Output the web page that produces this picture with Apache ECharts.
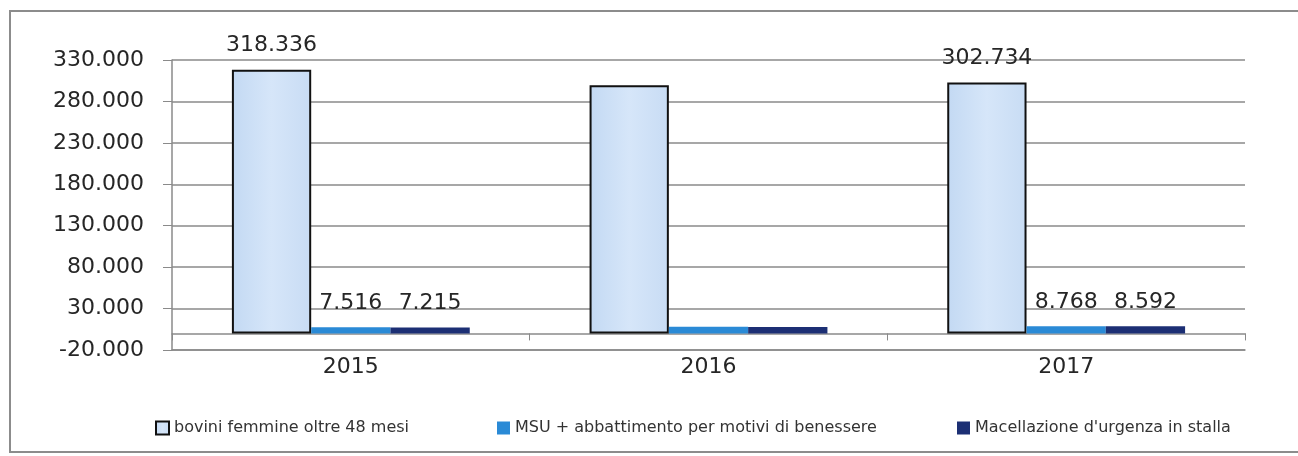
<!DOCTYPE html>
<html>
<head>
<meta charset="utf-8">
<script src="https://cdn.jsdelivr.net/npm/echarts@6/dist/echarts.min.js"></script>
<style>
html,body{margin:0;padding:0;background:#fff;}
#chart{width:1298px;height:456px;}
</style>
</head>
<body>
<div id="chart"></div>
<script>
var categories = ['2015', '2016', '2017'];
var seriesNames = ['bovini femmine oltre 48 mesi', 'MSU + abbattimento per motivi di benessere', "Macellazione d'urgenza in stalla"];
var bovini = [318336, 299600, 302734];
var msu = [7516, 8200, 8768];
var macellazione = [7215, 7900, 8592];
var yTicks = [-20000, 30000, 80000, 130000, 180000, 230000, 280000, 330000];

function fmt(v) {
  var neg = v < 0;
  var s = String(Math.abs(Math.round(v)));
  s = s.replace(/\B(?=(\d{3})+(?!\d))/g, '.');
  return (neg ? '-' : '') + s;
}

var FONT = 'DejaVu Sans';
var GRID = '#8a8a8a';

function makeData(values) {
  return values.map(function (v, i) {
    return { value: v, label: { show: i !== 1 } };
  });
}

var labelCfg = {
  show: true,
  position: 'top',
  distance: 13,
  fontFamily: FONT,
  fontSize: 22,
  color: '#262626',
  formatter: function (p) { return fmt(p.value); }
};

var chart = echarts.init(document.getElementById('chart'), null, { renderer: 'canvas' });
chart.setOption({
  animation: false,
  backgroundColor: '#fff',
  graphic: [{
    type: 'rect',
    shape: { x: 10, y: 11, width: 1300, height: 441 },
    style: { fill: 'none', stroke: '#8c8c8c', lineWidth: 2 },
    silent: true,
    z: -1
  }],
  grid: { left: 172, right: 53, top: 60, bottom: 106, containLabel: false },
  legend: [
    { data: [seriesNames[0]], left: 155, top: 420 },
    { data: [seriesNames[1]], left: 497, top: 420 },
    { data: [seriesNames[2]], left: 957, top: 420 }
  ].map(function (l) {
    l.itemWidth = 13; l.itemHeight = 13; l.icon = 'rect'; l.itemGap = 0; l.padding = 0;
    l.textStyle = { fontFamily: FONT, fontSize: 16, color: '#333' };
    return l;
  }),
  xAxis: [{
    type: 'category',
    data: categories,
    position: 'bottom',
    axisLine: { onZero: false, lineStyle: { color: GRID, width: 1.5 } },
    axisTick: { show: false },
    axisLabel: { fontFamily: FONT, fontSize: 22, color: '#262626', margin: 6 }
  }, {
    type: 'category',
    data: categories,
    position: 'top',
    axisLine: { onZero: true, lineStyle: { color: GRID, width: 1.5 } },
    axisTick: { show: true, inside: true, length: 7, lineStyle: { color: GRID } },
    axisLabel: { show: false }
  }],
  yAxis: {
    type: 'value',
    min: -20000,
    max: 330000,
    interval: 50000,
    axisLine: { show: true, lineStyle: { color: GRID, width: 1.5 } },
    axisTick: { show: true, length: 9, lineStyle: { color: GRID } },
    splitLine: { show: true, lineStyle: { color: GRID, width: 1.5 } },
    axisLabel: {
      fontFamily: FONT, fontSize: 22, color: '#262626', margin: 28,
      formatter: function (v) { return yTicks.indexOf(v) >= 0 ? fmt(v) : ''; }
    }
  },
  series: [{
    name: seriesNames[0],
    type: 'bar',
    xAxisIndex: 0,
    data: makeData(bovini),
    barGap: '0%',
    barCategoryGap: '33.5%',
    itemStyle: {
      color: new echarts.graphic.LinearGradient(0, 0, 1, 0, [
        { offset: 0, color: '#c3d9f3' }, { offset: 0.5, color: '#d6e6f9' }, { offset: 1, color: '#c8dcf4' }
      ]),
      borderColor: '#111',
      borderWidth: 2
    },
    label: labelCfg
  }, {
    name: seriesNames[1],
    type: 'bar',
    xAxisIndex: 0,
    data: makeData(msu),
    barGap: '0%',
    barCategoryGap: '33.5%',
    itemStyle: { color: '#2a8ad6' },
    label: labelCfg
  }, {
    name: seriesNames[2],
    type: 'bar',
    xAxisIndex: 0,
    data: makeData(macellazione),
    barGap: '0%',
    barCategoryGap: '33.5%',
    itemStyle: { color: '#1c2f74' },
    label: labelCfg
  }]
});
</script>
</body>
</html>
